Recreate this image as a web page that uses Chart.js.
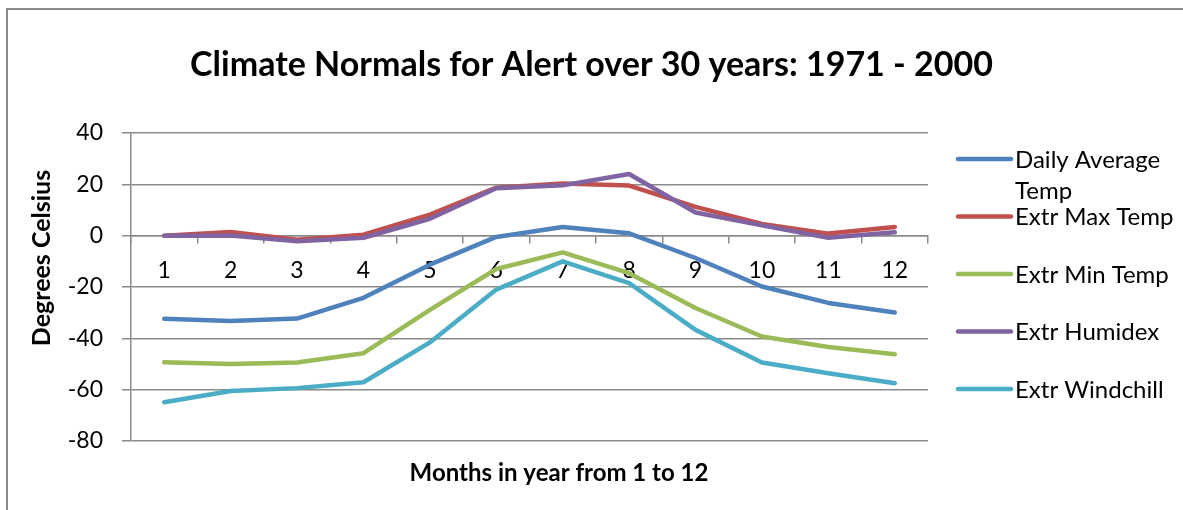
<!DOCTYPE html>
<html>
<head>
<meta charset="utf-8">
<title>Climate Normals for Alert</title>
<script src="https://cdn.jsdelivr.net/npm/chart.js@4.4.1/dist/chart.umd.min.js"></script>
<style>
html, body { margin: 0; padding: 0; background: #fff; overflow: hidden; }
#wrap { position: relative; width: 1183px; height: 510px; }
#frame {
  position: absolute; left: 6px; top: 8px; width: 2000px; height: 2000px;
  border-left: 2px solid #8a8a8a; border-top: 2px solid #8a8a8a;
  pointer-events: none;
}
</style>
</head>
<body>
<div id="wrap">
<canvas id="climateChart" width="1183" height="510"></canvas>
<div id="frame"></div>
</div>
<script>
/* data */
const months = ['1', '2', '3', '4', '5', '6', '7', '8', '9', '10', '11', '12'];
const seriesNames = ['Daily Average Temp', 'Extr Max Temp', 'Extr Min Temp', 'Extr Humidex', 'Extr Windchill'];
const dailyAverage = [-32.4, -33.2, -32.3, -24.2, -11.3, -0.5, 3.4, 0.9, -8.7, -19.8, -26.2, -29.9];
const extrMax = [0.0, 1.4, -1.6, 0.4, 8.2, 18.7, 20.3, 19.5, 11.2, 4.6, 0.8, 3.4];
const extrMin = [-49.3, -50.0, -49.4, -45.8, -28.9, -13.0, -6.5, -14.6, -28.2, -39.3, -43.4, -46.2];
const extrHumidex = [0.0, 0.1, -2.2, -0.8, 6.6, 18.5, 19.6, 24.0, 9.0, 4.0, -0.8, 1.3];
const extrWindchill = [-64.9, -60.5, -59.4, -57.1, -41.6, -21.0, -10.0, -18.5, -36.7, -49.4, -53.6, -57.5];
const seriesColors = ['#4F81BD', '#C0504D', '#9BBB59', '#8064A2', '#4BACC6'];

const GRID = '#8a8a8a';
const FONT = 'Lato';

/* legend on the right + axis titles, drawn on the canvas */
const sideText = {
  id: 'sideText',
  afterDraw(chart) {
    const ctx = chart.ctx;
    ctx.save();
    ctx.fillStyle = '#000';
    ctx.textBaseline = 'middle';

    // x axis title
    ctx.font = 'bold 24px ' + FONT;
    ctx.textAlign = 'center';
    ctx.fillText('Months in year from 1 to 12', 559, 473);

    // y axis title
    ctx.font = 'bold 25px ' + FONT;
    ctx.translate(42, 258);
    ctx.rotate(-Math.PI / 2);
    ctx.fillText('Degrees Celsius', 0, 0);
    ctx.setTransform(1, 0, 0, 1, 0, 0);

    // legend
    ctx.font = '24px ' + FONT;
    ctx.textAlign = 'left';
    chart.data.datasets.forEach(function (ds, i) {
      const y = 159 + i * 57.5;
      ctx.strokeStyle = ds.borderColor;
      ctx.lineWidth = 4.5;
      ctx.lineCap = 'round';
      ctx.beginPath();
      ctx.moveTo(958, y);
      ctx.lineTo(1011, y);
      ctx.stroke();

      // simple word wrap
      const words = ds.label.split(' ');
      const lines = [];
      let cur = '';
      words.forEach(function (w) {
        const test = cur ? cur + ' ' + w : w;
        if (ctx.measureText(test).width > 168 && cur) {
          lines.push(cur);
          cur = w;
        } else {
          cur = test;
        }
      });
      lines.push(cur);
      lines.forEach(function (t, k) {
        ctx.fillText(t, 1015, y + 1 + k * 31);
      });
    });
    ctx.restore();
  }
};

function build() {
  Chart.defaults.font.family = FONT;
  Chart.defaults.color = '#000';

  const ctx = document.getElementById('climateChart');

  new Chart(ctx, {
    type: 'line',
    data: {
      labels: months,
      datasets: [
        { label: seriesNames[0], data: dailyAverage, borderColor: seriesColors[0], order: 5 },
        { label: seriesNames[1], data: extrMax, borderColor: seriesColors[1], order: 4 },
        { label: seriesNames[2], data: extrMin, borderColor: seriesColors[2], order: 3 },
        { label: seriesNames[3], data: extrHumidex, borderColor: seriesColors[3], order: 2 },
        { label: seriesNames[4], data: extrWindchill, borderColor: seriesColors[4], order: 1 }
      ]
    },
    options: {
      responsive: false,
      animation: false,
      devicePixelRatio: 1,
      elements: {
        line: { borderWidth: 4.5, tension: 0, borderCapStyle: 'round', borderJoinStyle: 'round', fill: false },
        point: { radius: 0, hoverRadius: 0 }
      },
      layout: {
        padding: { left: 0, right: 0, top: 0, bottom: 69 }
      },
      scales: {
        x: {
          type: 'category',
          position: { y: 0 },
          offset: true,
          afterFit: function (scale) { scale.height = 0; },
          grid: {
            offset: true,
            drawOnChartArea: false,
            drawTicks: true,
            tickLength: 7,
            color: GRID,
            lineWidth: 1.5
          },
          border: { display: true, color: GRID, width: 1.5 },
          ticks: {
            font: { size: 23 },
            color: '#000',
            padding: 14,
            maxRotation: 0,
            autoSkip: false
          }
        },
        y: {
          min: -80,
          max: 40,
          afterFit: function (scale) { scale.width = 131; },
          grid: {
            color: GRID,
            lineWidth: 1.5,
            tickLength: 9
          },
          border: { display: true, color: GRID, width: 1.5 },
          ticks: {
            stepSize: 20,
            font: { size: 23 },
            color: '#000',
            padding: 19
          }
        },
        // empty axis that keeps room for the legend on the right
        legendRoom: {
          type: 'linear',
          position: 'right',
          afterFit: function (scale) { scale.width = 255; },
          grid: { display: false },
          border: { display: false },
          ticks: { display: false }
        }
      },
      plugins: {
        legend: { display: false },
        tooltip: { enabled: false },
        title: {
          display: true,
          text: 'Climate Normals for Alert over 30 years: 1971 - 2000',
          font: { size: 34, weight: 'bold' },
          color: '#000',
          padding: { top: 44.6, bottom: 47.6 }
        }
      }
    },
    plugins: [sideText]
  });
}

document.addEventListener('DOMContentLoaded', function () {
  if (document.fonts && document.fonts.load) {
    Promise.all([
      document.fonts.load('bold 30px Lato'),
      document.fonts.load('21px Lato')
    ]).then(build, build);
  } else {
    build();
  }
});
</script>
</body>
</html>
